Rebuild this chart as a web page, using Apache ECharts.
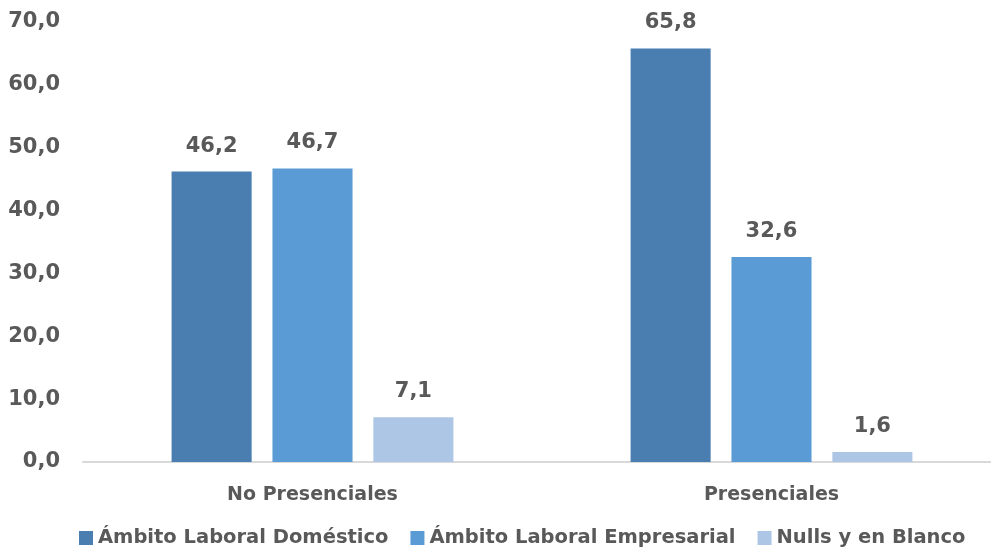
<!DOCTYPE html>
<html>
<head>
<meta charset="utf-8">
<script src="https://cdn.jsdelivr.net/npm/echarts@6/dist/echarts.min.js"></script>
<style>
  html, body { margin: 0; padding: 0; background: #ffffff; }
  #chart { width: 991px; height: 547px; }
</style>
</head>
<body>
<div id="chart"></div>
<script>
// Categories and series values
const categories = ['No Presenciales', 'Presenciales'];
const seriesNames = ['Ámbito Laboral Doméstico', 'Ámbito Laboral Empresarial', 'Nulls y en Blanco'];
const domestico = [46.2, 65.8];
const empresarial = [46.7, 32.6];
const nulls = [7.1, 1.6];

const colors = ['#4a7eb0', '#5b9bd5', '#adc6e6'];
const textColor = '#595959';
const fontFamily = '"DejaVu Sans", "Open Sans", sans-serif';
const fmt = v => Number(v).toFixed(1).replace('.', ',');

const chart = echarts.init(document.getElementById('chart'));

function makeSeries(name, data, color) {
  return {
    name: name,
    type: 'bar',
    data: data,
    barGap: '26%',
    barCategoryGap: '38.6%',
    itemStyle: { color: color },
    label: {
      show: true,
      position: 'top',
      distance: 15,
      color: textColor,
      fontFamily: fontFamily,
      fontWeight: 'bold',
      fontSize: 21,
      formatter: p => fmt(p.value)
    }
  };
}

chart.setOption({
  animation: false,
  color: colors,
  grid: { left: 83, top: 22, width: 918, height: 440, outerBoundsMode: 'none', containLabel: false },
  legend: {
    top: 523,
    left: 74,
    itemWidth: 14,
    itemHeight: 14,
    itemGap: 22,
    icon: 'rect',
    textStyle: { color: textColor, fontFamily: fontFamily, fontWeight: 'bold', fontSize: 19.5 },
    data: seriesNames
  },
  xAxis: {
    type: 'category',
    data: categories,
    axisLine: { lineStyle: { color: '#d9d9d9', width: 2 } },
    axisTick: { show: false },
    axisLabel: { color: textColor, fontFamily: fontFamily, fontWeight: 'bold', fontSize: 19, margin: 24 }
  },
  yAxis: {
    type: 'value',
    min: 0,
    max: 70,
    interval: 10,
    splitLine: { show: false },
    axisLine: { show: false },
    axisTick: { show: false },
    axisLabel: { color: textColor, fontFamily: fontFamily, fontWeight: 'bold', fontSize: 21, margin: 23, formatter: v => fmt(v) }
  },
  series: [
    makeSeries(seriesNames[0], domestico, colors[0]),
    makeSeries(seriesNames[1], empresarial, colors[1]),
    makeSeries(seriesNames[2], nulls, colors[2])
  ]
});
</script>
</body>
</html>
